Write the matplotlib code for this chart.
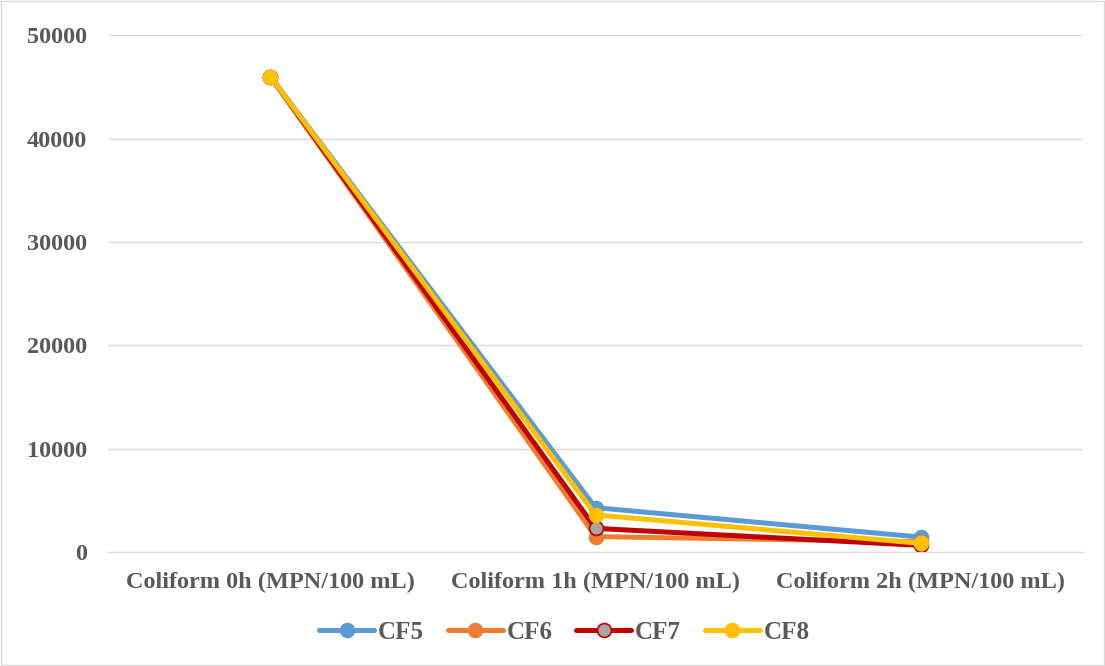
import numpy as np
import matplotlib
matplotlib.use('Agg')
import matplotlib.pyplot as plt
from matplotlib.patches import Rectangle

categories = ['Coliform 0h (MPN/100 mL)', 'Coliform 1h (MPN/100 mL)', 'Coliform 2h (MPN/100 mL)']
cf5 = [46000, 4300, 1450]
cf6 = [46000, 1500, 1000]
cf7 = [46000, 2300, 650]
cf8 = [46000, 3600, 850]
yticks = [0, 10000, 20000, 30000, 40000, 50000]

plt.rcParams['font.family'] = ['Liberation Serif', 'DejaVu Serif']
txt = '#595959'

fig = plt.figure(figsize=(11.05, 6.66), dpi=100)
ax = fig.add_axes([0.0977, 0.171, 0.8825, 0.776])

x = np.arange(len(categories))
series = [
    ('CF5', cf5, '#5B9BD5', '#5B9BD5'),
    ('CF6', cf6, '#ED7D31', '#ED7D31'),
    ('CF7', cf7, '#C00000', '#A5A5A5'),
    ('CF8', cf8, '#FFC000', '#FFC000'),
]
for name, vals, col, face in series:
    ax.plot(x, vals, color=col, lw=3.6, marker='o', markersize=10,
            markerfacecolor=face, markeredgecolor=col, markeredgewidth=1.2,
            label=name, solid_capstyle='round')

ax.set_xlim(-0.5, 2.5)
ax.set_ylim(0, 50000)
ax.set_yticks(yticks)
ax.set_xticks(x)
ax.set_xticklabels(categories)
ax.grid(axis='y', color='#d9d9d9', lw=1)
ax.set_axisbelow(True)
for s in ['top', 'right', 'left']:
    ax.spines[s].set_visible(False)
ax.spines['bottom'].set_color('#d9d9d9')
ax.tick_params(length=0, labelsize=17.5, colors=txt)
ax.tick_params(axis='x', pad=14)
ax.tick_params(axis='y', pad=15)
for lab in ax.get_xticklabels() + ax.get_yticklabels():
    lab.set_fontweight('bold')

leg = fig.legend(loc='center', bbox_to_anchor=(0.511, 0.051), ncol=4, frameon=False,
                 prop={'weight': 'bold', 'size': 18}, handlelength=2.2,
                 columnspacing=0.95, handletextpad=0.15)
for t in leg.get_texts():
    t.set_color(txt)

fig.patches.append(Rectangle((0.001, 0.001), 0.998, 0.998, transform=fig.transFigure,
                             fill=False, edgecolor='#d9d9d9', lw=1))

fig.savefig('out.png', dpi=100)
